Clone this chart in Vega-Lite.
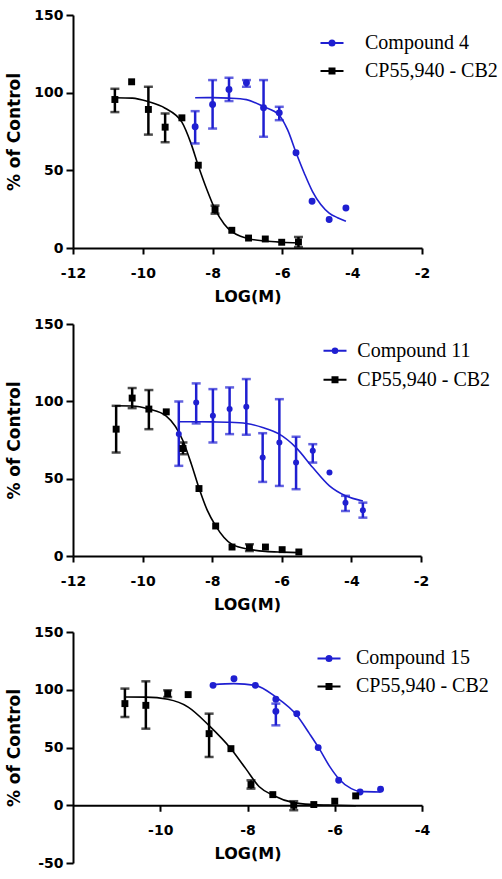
{
  "$schema": "https://vega.github.io/schema/vega-lite/v6.json",
  "padding": {"left": 5, "top": 8, "right": 0, "bottom": 0},
  "background": "white",
  "spacing": 13,
  "datasets": {
    "points": [
      {"panel": 1, "series": "CP55,940 - CB2", "x": -10.8, "y": 95.6, "lo": 87.5, "hi": 102.5},
      {"panel": 1, "series": "CP55,940 - CB2", "x": -10.32, "y": 107},
      {"panel": 1, "series": "CP55,940 - CB2", "x": -9.84, "y": 89.2, "lo": 73, "hi": 103.8},
      {"panel": 1, "series": "CP55,940 - CB2", "x": -9.36, "y": 77.8, "lo": 68.1, "hi": 86.6},
      {"panel": 1, "series": "CP55,940 - CB2", "x": -8.88, "y": 83.8},
      {"panel": 1, "series": "CP55,940 - CB2", "x": -8.41, "y": 53.3},
      {"panel": 1, "series": "CP55,940 - CB2", "x": -7.93, "y": 24.7, "lo": 22.1, "hi": 27.3},
      {"panel": 1, "series": "CP55,940 - CB2", "x": -7.45, "y": 11.4},
      {"panel": 1, "series": "CP55,940 - CB2", "x": -6.97, "y": 6.4},
      {"panel": 1, "series": "CP55,940 - CB2", "x": -6.49, "y": 5.8},
      {"panel": 1, "series": "CP55,940 - CB2", "x": -6.02, "y": 3.7},
      {"panel": 1, "series": "CP55,940 - CB2", "x": -5.54, "y": 3.9, "lo": 0.6, "hi": 7.1},
      {"panel": 1, "series": "Compound 4", "x": -8.5, "y": 78, "lo": 67.3, "hi": 88.1},
      {"panel": 1, "series": "Compound 4", "x": -8.0, "y": 92.4, "lo": 76.9, "hi": 108.1},
      {"panel": 1, "series": "Compound 4", "x": -7.53, "y": 102.1, "lo": 94.6, "hi": 109.6},
      {"panel": 1, "series": "Compound 4", "x": -7.03, "y": 106.4, "lo": 103.8, "hi": 108.1},
      {"panel": 1, "series": "Compound 4", "x": -6.54, "y": 90.3, "lo": 71.6, "hi": 108.1},
      {"panel": 1, "series": "Compound 4", "x": -6.09, "y": 87, "lo": 82.3, "hi": 90.9},
      {"panel": 1, "series": "Compound 4", "x": -5.61, "y": 61.3},
      {"panel": 1, "series": "Compound 4", "x": -5.15, "y": 30.1},
      {"panel": 1, "series": "Compound 4", "x": -4.66, "y": 18.3},
      {"panel": 1, "series": "Compound 4", "x": -4.18, "y": 25.8},

      {"panel": 2, "series": "CP55,940 - CB2", "x": -10.76, "y": 82, "lo": 66.9, "hi": 97.1},
      {"panel": 2, "series": "CP55,940 - CB2", "x": -10.3, "y": 102.1, "lo": 95.6, "hi": 108.6},
      {"panel": 2, "series": "CP55,940 - CB2", "x": -9.82, "y": 95, "lo": 82, "hi": 107.3},
      {"panel": 2, "series": "CP55,940 - CB2", "x": -9.32, "y": 93.2},
      {"panel": 2, "series": "CP55,940 - CB2", "x": -8.84, "y": 69.5, "lo": 65.8, "hi": 73.4},
      {"panel": 2, "series": "CP55,940 - CB2", "x": -8.38, "y": 43.6},
      {"panel": 2, "series": "CP55,940 - CB2", "x": -7.9, "y": 19.4},
      {"panel": 2, "series": "CP55,940 - CB2", "x": -7.43, "y": 5.8},
      {"panel": 2, "series": "CP55,940 - CB2", "x": -6.93, "y": 5.4, "lo": 3.2, "hi": 7.6},
      {"panel": 2, "series": "CP55,940 - CB2", "x": -6.47, "y": 5.8},
      {"panel": 2, "series": "CP55,940 - CB2", "x": -5.99, "y": 4.1},
      {"panel": 2, "series": "CP55,940 - CB2", "x": -5.51, "y": 2.6},
      {"panel": 2, "series": "Compound 11", "x": -8.96, "y": 78.8, "lo": 58.3, "hi": 99.9},
      {"panel": 2, "series": "Compound 11", "x": -8.46, "y": 99.3, "lo": 85.7, "hi": 111.6},
      {"panel": 2, "series": "Compound 11", "x": -7.98, "y": 90.6, "lo": 73.4, "hi": 107.9},
      {"panel": 2, "series": "Compound 11", "x": -7.5, "y": 95, "lo": 78.8, "hi": 109},
      {"panel": 2, "series": "Compound 11", "x": -7.02, "y": 96.5, "lo": 78.4, "hi": 114.4},
      {"panel": 2, "series": "Compound 11", "x": -6.55, "y": 63.7, "lo": 47.9, "hi": 79.4},
      {"panel": 2, "series": "Compound 11", "x": -6.07, "y": 73.4, "lo": 45.3, "hi": 101.4},
      {"panel": 2, "series": "Compound 11", "x": -5.59, "y": 60.4, "lo": 43.2, "hi": 77.1},
      {"panel": 2, "series": "Compound 11", "x": -5.11, "y": 68, "lo": 60.4, "hi": 72.3},
      {"panel": 2, "series": "Compound 11", "x": -4.63, "y": 54},
      {"panel": 2, "series": "Compound 11", "x": -4.17, "y": 34.5, "lo": 29.1, "hi": 38.9},
      {"panel": 2, "series": "Compound 11", "x": -3.67, "y": 29.6, "lo": 24.8, "hi": 34.5},

      {"panel": 3, "series": "CP55,940 - CB2", "x": -10.81, "y": 88, "lo": 76.4, "hi": 101},
      {"panel": 3, "series": "CP55,940 - CB2", "x": -10.33, "y": 86.5, "lo": 66.3, "hi": 107.3},
      {"panel": 3, "series": "CP55,940 - CB2", "x": -9.83, "y": 96.6, "lo": 93.7, "hi": 99.5},
      {"panel": 3, "series": "CP55,940 - CB2", "x": -9.36, "y": 95.8},
      {"panel": 3, "series": "CP55,940 - CB2", "x": -8.88, "y": 62, "lo": 41.8, "hi": 79.3},
      {"panel": 3, "series": "CP55,940 - CB2", "x": -8.38, "y": 49},
      {"panel": 3, "series": "CP55,940 - CB2", "x": -7.92, "y": 17.9, "lo": 14.4, "hi": 21.6},
      {"panel": 3, "series": "CP55,940 - CB2", "x": -7.42, "y": 9.2},
      {"panel": 3, "series": "CP55,940 - CB2", "x": -6.94, "y": 0, "lo": -4.3, "hi": 3.5},
      {"panel": 3, "series": "CP55,940 - CB2", "x": -6.48, "y": 0.6},
      {"panel": 3, "series": "CP55,940 - CB2", "x": -6.0, "y": 3.5},
      {"panel": 3, "series": "CP55,940 - CB2", "x": -5.52, "y": 8.1},
      {"panel": 3, "series": "Compound 15", "x": -8.79, "y": 103.8},
      {"panel": 3, "series": "Compound 15", "x": -8.31, "y": 109.6},
      {"panel": 3, "series": "Compound 15", "x": -7.82, "y": 103.8},
      {"panel": 3, "series": "Compound 15", "x": -7.35, "y": 91.7},
      {"panel": 3, "series": "Compound 15", "x": -7.35, "y": 81.3, "lo": 69.2, "hi": 88},
      {"panel": 3, "series": "Compound 15", "x": -6.87, "y": 79.3},
      {"panel": 3, "series": "Compound 15", "x": -6.38, "y": 49.9},
      {"panel": 3, "series": "Compound 15", "x": -5.91, "y": 21.6},
      {"panel": 3, "series": "Compound 15", "x": -5.42, "y": 11.5},
      {"panel": 3, "series": "Compound 15", "x": -4.95, "y": 13.8}
    ],
    "curves": [
      {"panel": 1, "series": "CP55,940 - CB2", "x": -10.8, "y": 96.7},
      {"panel": 1, "series": "CP55,940 - CB2", "x": -10.3, "y": 96.5},
      {"panel": 1, "series": "CP55,940 - CB2", "x": -9.84, "y": 94.2},
      {"panel": 1, "series": "CP55,940 - CB2", "x": -9.36, "y": 90},
      {"panel": 1, "series": "CP55,940 - CB2", "x": -8.88, "y": 81},
      {"panel": 1, "series": "CP55,940 - CB2", "x": -8.63, "y": 68},
      {"panel": 1, "series": "CP55,940 - CB2", "x": -8.41, "y": 53},
      {"panel": 1, "series": "CP55,940 - CB2", "x": -8.17, "y": 38},
      {"panel": 1, "series": "CP55,940 - CB2", "x": -7.93, "y": 25},
      {"panel": 1, "series": "CP55,940 - CB2", "x": -7.67, "y": 15.5},
      {"panel": 1, "series": "CP55,940 - CB2", "x": -7.45, "y": 10.5},
      {"panel": 1, "series": "CP55,940 - CB2", "x": -7.2, "y": 7.5},
      {"panel": 1, "series": "CP55,940 - CB2", "x": -6.97, "y": 6},
      {"panel": 1, "series": "CP55,940 - CB2", "x": -6.5, "y": 4.5},
      {"panel": 1, "series": "CP55,940 - CB2", "x": -6.02, "y": 3.7},
      {"panel": 1, "series": "CP55,940 - CB2", "x": -5.54, "y": 3.2},
      {"panel": 1, "series": "Compound 4", "x": -8.5, "y": 96.7},
      {"panel": 1, "series": "Compound 4", "x": -8.0, "y": 96.8},
      {"panel": 1, "series": "Compound 4", "x": -7.53, "y": 96.5},
      {"panel": 1, "series": "Compound 4", "x": -7.03, "y": 95.5},
      {"panel": 1, "series": "Compound 4", "x": -6.54, "y": 91},
      {"panel": 1, "series": "Compound 4", "x": -6.09, "y": 85.5},
      {"panel": 1, "series": "Compound 4", "x": -5.85, "y": 76},
      {"panel": 1, "series": "Compound 4", "x": -5.61, "y": 61.5},
      {"panel": 1, "series": "Compound 4", "x": -5.37, "y": 48},
      {"panel": 1, "series": "Compound 4", "x": -5.14, "y": 36.5},
      {"panel": 1, "series": "Compound 4", "x": -4.9, "y": 28},
      {"panel": 1, "series": "Compound 4", "x": -4.66, "y": 22.5},
      {"panel": 1, "series": "Compound 4", "x": -4.42, "y": 19.5},
      {"panel": 1, "series": "Compound 4", "x": -4.18, "y": 17.2},

      {"panel": 2, "series": "CP55,940 - CB2", "x": -10.8, "y": 97.1},
      {"panel": 2, "series": "CP55,940 - CB2", "x": -10.3, "y": 97},
      {"panel": 2, "series": "CP55,940 - CB2", "x": -9.82, "y": 95},
      {"panel": 2, "series": "CP55,940 - CB2", "x": -9.32, "y": 90.5},
      {"panel": 2, "series": "CP55,940 - CB2", "x": -8.84, "y": 74.5},
      {"panel": 2, "series": "CP55,940 - CB2", "x": -8.6, "y": 59.5},
      {"panel": 2, "series": "CP55,940 - CB2", "x": -8.38, "y": 44},
      {"panel": 2, "series": "CP55,940 - CB2", "x": -8.14, "y": 29.5},
      {"panel": 2, "series": "CP55,940 - CB2", "x": -7.9, "y": 19.5},
      {"panel": 2, "series": "CP55,940 - CB2", "x": -7.66, "y": 12},
      {"panel": 2, "series": "CP55,940 - CB2", "x": -7.43, "y": 7.5},
      {"panel": 2, "series": "CP55,940 - CB2", "x": -6.93, "y": 4.3},
      {"panel": 2, "series": "CP55,940 - CB2", "x": -6.47, "y": 3},
      {"panel": 2, "series": "CP55,940 - CB2", "x": -5.99, "y": 2.5},
      {"panel": 2, "series": "CP55,940 - CB2", "x": -5.51, "y": 2.2},
      {"panel": 2, "series": "Compound 11", "x": -8.96, "y": 86.8},
      {"panel": 2, "series": "Compound 11", "x": -8.46, "y": 86.8},
      {"panel": 2, "series": "Compound 11", "x": -7.98, "y": 86.7},
      {"panel": 2, "series": "Compound 11", "x": -7.5, "y": 86.5},
      {"panel": 2, "series": "Compound 11", "x": -7.02, "y": 85.7},
      {"panel": 2, "series": "Compound 11", "x": -6.55, "y": 83.1},
      {"panel": 2, "series": "Compound 11", "x": -6.07, "y": 78.8},
      {"panel": 2, "series": "Compound 11", "x": -5.59, "y": 70.1},
      {"panel": 2, "series": "Compound 11", "x": -5.11, "y": 57.2},
      {"panel": 2, "series": "Compound 11", "x": -4.63, "y": 45.3},
      {"panel": 2, "series": "Compound 11", "x": -4.17, "y": 38.9},
      {"panel": 2, "series": "Compound 11", "x": -3.67, "y": 35.6},

      {"panel": 3, "series": "CP55,940 - CB2", "x": -10.81, "y": 93.7},
      {"panel": 3, "series": "CP55,940 - CB2", "x": -10.33, "y": 93.6},
      {"panel": 3, "series": "CP55,940 - CB2", "x": -9.83, "y": 91.7},
      {"panel": 3, "series": "CP55,940 - CB2", "x": -9.36, "y": 85},
      {"panel": 3, "series": "CP55,940 - CB2", "x": -8.88, "y": 69},
      {"panel": 3, "series": "CP55,940 - CB2", "x": -8.38, "y": 49},
      {"panel": 3, "series": "CP55,940 - CB2", "x": -8.04, "y": 31.7},
      {"panel": 3, "series": "CP55,940 - CB2", "x": -7.73, "y": 16},
      {"panel": 3, "series": "CP55,940 - CB2", "x": -7.42, "y": 8.7},
      {"panel": 3, "series": "CP55,940 - CB2", "x": -6.94, "y": 2.3},
      {"panel": 3, "series": "CP55,940 - CB2", "x": -6.48, "y": 0.6},
      {"panel": 3, "series": "CP55,940 - CB2", "x": -6.0, "y": 0},
      {"panel": 3, "series": "CP55,940 - CB2", "x": -5.52, "y": -0.5},
      {"panel": 3, "series": "Compound 15", "x": -8.79, "y": 104.4},
      {"panel": 3, "series": "Compound 15", "x": -8.31, "y": 105.3},
      {"panel": 3, "series": "Compound 15", "x": -7.82, "y": 103.8},
      {"panel": 3, "series": "Compound 15", "x": -7.35, "y": 93.7},
      {"panel": 3, "series": "Compound 15", "x": -6.87, "y": 77.9},
      {"panel": 3, "series": "Compound 15", "x": -6.58, "y": 62},
      {"panel": 3, "series": "Compound 15", "x": -6.38, "y": 50.5},
      {"panel": 3, "series": "Compound 15", "x": -6.11, "y": 33.2},
      {"panel": 3, "series": "Compound 15", "x": -5.91, "y": 23},
      {"panel": 3, "series": "Compound 15", "x": -5.62, "y": 14.4},
      {"panel": 3, "series": "Compound 15", "x": -5.42, "y": 12},
      {"panel": 3, "series": "Compound 15", "x": -4.95, "y": 11.5}
    ]
  },
  "vconcat": [
    {
      "width": 349,
      "height": 233,
      "layer": [
        {
          "data": {"name": "curves"},
          "transform": [{"filter": "datum.panel === 1"}],
          "mark": {"type": "line", "strokeWidth": 1.6, "interpolate": "monotone"},
          "encoding": {
            "x": {"field": "x", "type": "quantitative", "title": "LOG(M)", "scale": {"domain": [-12, -2], "nice": false, "zero": false}, "axis": {"values": [-12, -10, -8, -6, -4, -2]}},
            "y": {"field": "y", "type": "quantitative", "title": "% of Control", "scale": {"domain": [0, 150], "nice": false, "zero": false}, "axis": {"values": [0, 50, 100, 150]}},
            "color": {"field": "series", "type": "nominal", "scale": {"range": ["#000000", "#1f1fd1"]}, "legend": null}
          }
        },
        {
          "data": {"name": "points"},
          "transform": [{"filter": "datum.panel === 1 && isValid(datum.lo)"}],
          "mark": {"type": "errorbar", "thickness": 2.5, "ticks": {"size": 9, "thickness": 2.5}},
          "encoding": {
            "x": {"field": "x", "type": "quantitative", "title": "LOG(M)"},
            "y": {"field": "lo", "type": "quantitative", "title": "% of Control"},
            "y2": {"field": "hi"},
            "color": {"field": "series", "type": "nominal", "legend": null}
          }
        },
        {
          "data": {"name": "points"},
          "transform": [{"filter": "datum.panel === 1 && datum.series !== 'CP55,940 - CB2'"}],
          "mark": {"type": "point", "shape": "circle", "filled": true, "opacity": 1, "size": 48},
          "encoding": {
            "x": {"field": "x", "type": "quantitative", "title": "LOG(M)"},
            "y": {"field": "y", "type": "quantitative", "title": "% of Control"},
            "color": {"field": "series", "type": "nominal", "legend": null}
          }
        },
        {
          "data": {"name": "points"},
          "transform": [{"filter": "datum.panel === 1 && datum.series === 'CP55,940 - CB2'"}],
          "mark": {"type": "point", "shape": "square", "filled": true, "opacity": 1, "size": 48},
          "encoding": {
            "x": {"field": "x", "type": "quantitative", "title": "LOG(M)"},
            "y": {"field": "y", "type": "quantitative", "title": "% of Control"},
            "color": {"field": "series", "type": "nominal", "legend": null}
          }
        },
        {
          "data": {"name": "points"},
          "transform": [{"filter": "false"}],
          "mark": {"type": "point", "filled": true, "opacity": 1},
          "encoding": {
            "x": {"field": "x", "type": "quantitative", "title": "LOG(M)"},
            "y": {"field": "y", "type": "quantitative", "title": "% of Control"},
            "fill": {
              "field": "series", "type": "nominal", "title": null,
              "scale": {"domain": ["Compound 4", "CP55,940 - CB2"], "range": ["#1f1fd1", "#000000"]},
              "legend": {
                "orient": "none", "legendX": 249, "legendY": 18, "padding": 0,
                "symbolSize": 100, "symbolStrokeWidth": 2, "symbolOpacity": 1, "labelOffset": 23, "rowPadding": 8,
                "labelFont": "Liberation Serif", "labelFontSize": 20, "labelColor": "black"
              }
            },
            "stroke": {"field": "series", "type": "nominal", "title": null, "scale": {"domain": ["Compound 4", "CP55,940 - CB2"], "range": ["#1f1fd1", "#000000"]}},
            "shape": {"field": "series", "type": "nominal", "title": null, "scale": {"domain": ["Compound 4", "CP55,940 - CB2"], "range": ["M-2.3,0H2.3M-0.5,0A0.5,0.5,0,1,1,0.5,0A0.5,0.5,0,1,1,-0.5,0Z", "M-2.3,0H2.3M-0.5,-0.5H0.5V0.5H-0.5Z"]}}
          }
        }
      ]
    },
    {
      "width": 348,
      "height": 232,
      "layer": [
        {
          "data": {"name": "curves"},
          "transform": [{"filter": "datum.panel === 2"}],
          "mark": {"type": "line", "strokeWidth": 1.6, "interpolate": "monotone"},
          "encoding": {
            "x": {"field": "x", "type": "quantitative", "title": "LOG(M)", "scale": {"domain": [-12, -2], "nice": false, "zero": false}, "axis": {"values": [-12, -10, -8, -6, -4, -2]}},
            "y": {"field": "y", "type": "quantitative", "title": "% of Control", "scale": {"domain": [0, 150], "nice": false, "zero": false}, "axis": {"values": [0, 50, 100, 150]}},
            "color": {"field": "series", "type": "nominal", "scale": {"range": ["#000000", "#1f1fd1"]}, "legend": null}
          }
        },
        {
          "data": {"name": "points"},
          "transform": [{"filter": "datum.panel === 2 && isValid(datum.lo)"}],
          "mark": {"type": "errorbar", "thickness": 2.5, "ticks": {"size": 9, "thickness": 2.5}},
          "encoding": {
            "x": {"field": "x", "type": "quantitative", "title": "LOG(M)"},
            "y": {"field": "lo", "type": "quantitative", "title": "% of Control"},
            "y2": {"field": "hi"},
            "color": {"field": "series", "type": "nominal", "legend": null}
          }
        },
        {
          "data": {"name": "points"},
          "transform": [{"filter": "datum.panel === 2 && datum.series !== 'CP55,940 - CB2'"}],
          "mark": {"type": "point", "shape": "circle", "filled": true, "opacity": 1, "size": 36},
          "encoding": {
            "x": {"field": "x", "type": "quantitative", "title": "LOG(M)"},
            "y": {"field": "y", "type": "quantitative", "title": "% of Control"},
            "color": {"field": "series", "type": "nominal", "legend": null}
          }
        },
        {
          "data": {"name": "points"},
          "transform": [{"filter": "datum.panel === 2 && datum.series === 'CP55,940 - CB2'"}],
          "mark": {"type": "point", "shape": "square", "filled": true, "opacity": 1, "size": 48},
          "encoding": {
            "x": {"field": "x", "type": "quantitative", "title": "LOG(M)"},
            "y": {"field": "y", "type": "quantitative", "title": "% of Control"},
            "color": {"field": "series", "type": "nominal", "legend": null}
          }
        },
        {
          "data": {"name": "points"},
          "transform": [{"filter": "false"}],
          "mark": {"type": "point", "filled": true, "opacity": 1},
          "encoding": {
            "x": {"field": "x", "type": "quantitative", "title": "LOG(M)"},
            "y": {"field": "y", "type": "quantitative", "title": "% of Control"},
            "fill": {
              "field": "series", "type": "nominal", "title": null,
              "scale": {"domain": ["Compound 11", "CP55,940 - CB2"], "range": ["#1f1fd1", "#000000"]},
              "legend": {
                "orient": "none", "legendX": 252, "legendY": 16.7, "padding": 0,
                "symbolSize": 100, "symbolStrokeWidth": 2, "symbolOpacity": 1, "labelOffset": 12.3, "rowPadding": 9,
                "labelFont": "Liberation Serif", "labelFontSize": 20, "labelColor": "black"
              }
            },
            "stroke": {"field": "series", "type": "nominal", "title": null, "scale": {"domain": ["Compound 11", "CP55,940 - CB2"], "range": ["#1f1fd1", "#000000"]}},
            "shape": {"field": "series", "type": "nominal", "title": null, "scale": {"domain": ["Compound 11", "CP55,940 - CB2"], "range": ["M-2.3,0H2.3M-0.45,0A0.45,0.45,0,1,1,0.45,0A0.45,0.45,0,1,1,-0.45,0Z", "M-2.3,0H2.3M-0.5,-0.5H0.5V0.5H-0.5Z"]}}
          }
        }
      ]
    },
    {
      "width": 349,
      "height": 231,
      "layer": [
        {
          "data": {"name": "curves"},
          "transform": [{"filter": "datum.panel === 3"}],
          "mark": {"type": "line", "strokeWidth": 1.6, "interpolate": "monotone"},
          "encoding": {
            "x": {"field": "x", "type": "quantitative", "title": "LOG(M)", "scale": {"domain": [-12, -4], "nice": false, "zero": false}, "axis": {"values": [-10, -8, -6, -4], "offset": -57.75}},
            "y": {"field": "y", "type": "quantitative", "title": "% of Control", "scale": {"domain": [-50, 150], "nice": false, "zero": false}, "axis": {"values": [-50, 0, 50, 100, 150]}},
            "color": {"field": "series", "type": "nominal", "scale": {"range": ["#000000", "#1f1fd1"]}, "legend": null}
          }
        },
        {
          "data": {"name": "points"},
          "transform": [{"filter": "datum.panel === 3 && isValid(datum.lo)"}],
          "mark": {"type": "errorbar", "thickness": 2.5, "ticks": {"size": 9, "thickness": 2.5}},
          "encoding": {
            "x": {"field": "x", "type": "quantitative", "title": "LOG(M)"},
            "y": {"field": "lo", "type": "quantitative", "title": "% of Control"},
            "y2": {"field": "hi"},
            "color": {"field": "series", "type": "nominal", "legend": null}
          }
        },
        {
          "data": {"name": "points"},
          "transform": [{"filter": "datum.panel === 3 && datum.series !== 'CP55,940 - CB2'"}],
          "mark": {"type": "point", "shape": "circle", "filled": true, "opacity": 1, "size": 48},
          "encoding": {
            "x": {"field": "x", "type": "quantitative", "title": "LOG(M)"},
            "y": {"field": "y", "type": "quantitative", "title": "% of Control"},
            "color": {"field": "series", "type": "nominal", "legend": null}
          }
        },
        {
          "data": {"name": "points"},
          "transform": [{"filter": "datum.panel === 3 && datum.series === 'CP55,940 - CB2'"}],
          "mark": {"type": "point", "shape": "square", "filled": true, "opacity": 1, "size": 48},
          "encoding": {
            "x": {"field": "x", "type": "quantitative", "title": "LOG(M)"},
            "y": {"field": "y", "type": "quantitative", "title": "% of Control"},
            "color": {"field": "series", "type": "nominal", "legend": null}
          }
        },
        {
          "data": {"name": "points"},
          "transform": [{"filter": "false"}],
          "mark": {"type": "point", "filled": true, "opacity": 1},
          "encoding": {
            "x": {"field": "x", "type": "quantitative", "title": "LOG(M)"},
            "y": {"field": "y", "type": "quantitative", "title": "% of Control"},
            "fill": {
              "field": "series", "type": "nominal", "title": null,
              "scale": {"domain": ["Compound 15", "CP55,940 - CB2"], "range": ["#1f1fd1", "#000000"]},
              "legend": {
                "orient": "none", "legendX": 246, "legendY": 16.4, "padding": 0,
                "symbolSize": 100, "symbolStrokeWidth": 2, "symbolOpacity": 1, "labelOffset": 17, "rowPadding": 8,
                "labelFont": "Liberation Serif", "labelFontSize": 20, "labelColor": "black"
              }
            },
            "stroke": {"field": "series", "type": "nominal", "title": null, "scale": {"domain": ["Compound 15", "CP55,940 - CB2"], "range": ["#1f1fd1", "#000000"]}},
            "shape": {"field": "series", "type": "nominal", "title": null, "scale": {"domain": ["Compound 15", "CP55,940 - CB2"], "range": ["M-2.3,0H2.3M-0.5,0A0.5,0.5,0,1,1,0.5,0A0.5,0.5,0,1,1,-0.5,0Z", "M-2.3,0H2.3M-0.5,-0.5H0.5V0.5H-0.5Z"]}}
          }
        }
      ]
    }
  ],
  "resolve": {
    "scale": {"x": "independent", "y": "independent", "color": "independent", "fill": "independent", "stroke": "independent", "shape": "independent"},
    "axis": {"x": "independent", "y": "independent"},
    "legend": {"color": "independent", "fill": "independent", "stroke": "independent", "shape": "independent"}
  },
  "config": {
    "view": {"stroke": null},
    "axis": {
      "grid": false, "domainColor": "black", "domainWidth": 2, "tickColor": "black", "tickWidth": 2,
      "labelFont": "DejaVu Sans", "labelFontWeight": "bold", "labelFontSize": 14, "labelColor": "black",
      "labelFlush": false, "labelOverlap": false,
      "labelExpr": "replace(datum.label, '\u2212', '-')",
      "titleFont": "DejaVu Sans", "titleFontWeight": "bold", "titleColor": "black"
    },
    "axisX": {"tickSize": 6, "labelPadding": 12, "titleFontSize": 16, "titlePadding": 8},
    "axisY": {"tickSize": 7, "labelPadding": 3, "titleFontSize": 17, "titlePadding": 10}
  }
}
